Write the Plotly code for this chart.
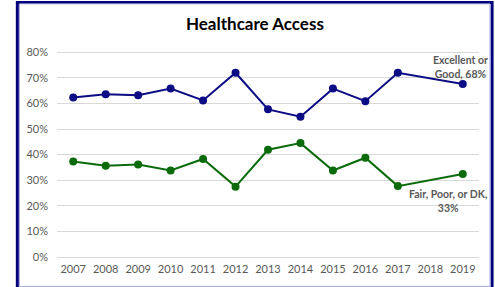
import plotly.graph_objects as go

years = ["2007", "2008", "2009", "2010", "2011", "2012", "2013",
         "2014", "2015", "2016", "2017", "2018", "2019"]
excellent_good = [62.3, 63.6, 63.2, 65.8, 61.2, 72.0, 57.7, 54.8, 65.8, 60.9, 72.0, None, 67.6]
fair_poor_dk = [37.3, 35.7, 36.1, 33.8, 38.3, 27.5, 41.9, 44.5, 33.8, 38.8, 27.7, None, 32.4]
y_ticks = [0, 10, 20, 30, 40, 50, 60, 70, 80]
y_tick_labels = [f"{v}%" for v in y_ticks]

NAVY = "#0C0C84"
GREEN = "#0B6B0B"
GREY = "#595959"
FONT = "Lato"

fig = go.Figure()
fig.add_trace(go.Scatter(
    x=years, y=excellent_good, mode="lines+markers", name="Excellent or Good",
    line=dict(color=NAVY, width=2), marker=dict(color=NAVY, size=8),
    connectgaps=True))
fig.add_trace(go.Scatter(
    x=years, y=fair_poor_dk, mode="lines+markers", name="Fair, Poor, or DK",
    line=dict(color=GREEN, width=2), marker=dict(color=GREEN, size=8),
    connectgaps=True))

fig.add_annotation(x=11.93, y=74.3, xref="x", yref="y",
                   text="<b>Excellent or<br>Good, 68%</b>", showarrow=False,
                   font=dict(family=FONT, size=10.5, color=GREY), align="center")
fig.add_annotation(x=11.56, y=21.8, xref="x", yref="y",
                   text="<b>Fair, Poor, or DK,<br>33%</b>", showarrow=False,
                   font=dict(family=FONT, size=10.5, color=GREY), align="center")

# border
fig.add_shape(type="rect", xref="paper", yref="paper",
              x0=-0.094, x1=1.031, y0=-0.16, y1=1.236,
              line=dict(color="#00007A", width=3), layer="above")
fig.add_shape(type="rect", xref="paper", yref="paper",
              x0=-0.089, x1=1.026, y0=-0.143, y1=1.229,
              line=dict(color="#A8A8E0", width=1), layer="above")

fig.update_layout(
    width=495, height=287,
    margin=dict(l=57, r=16, t=51, b=30),
    paper_bgcolor="white", plot_bgcolor="white",
    showlegend=False,
    title=dict(text="<b>Healthcare Access</b>", x=0.515, xanchor="center",
               y=0.915, yanchor="middle",
               font=dict(family=FONT, size=17, color="#000000")),
    xaxis=dict(type="category", range=[-0.5, 12.5], showgrid=False,
               showline=False, ticks="", zeroline=False,
               tickfont=dict(family=FONT, size=11, color=GREY),
               ticklabelstandoff=4),
    yaxis=dict(range=[0, 80.5], tickvals=y_ticks, ticktext=y_tick_labels,
               showgrid=True, gridcolor="#D9D9D9", gridwidth=1,
               zeroline=True, zerolinecolor="#D9D9D9", zerolinewidth=1,
               showline=False, ticks="",
               tickfont=dict(family=FONT, size=11, color=GREY),
               ticklabelstandoff=8),
    hovermode=False,
)

fig.write_html("out.html", config={"displayModeBar": False},
               post_script="document.body.style.margin='0';document.body.style.overflow='hidden';")
